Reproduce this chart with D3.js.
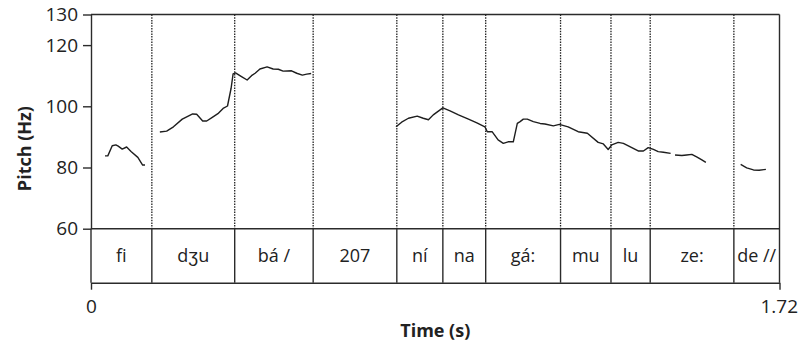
<!DOCTYPE html>
<html>
<head>
<meta charset="utf-8">
<script src="https://cdn.jsdelivr.net/npm/d3@7"></script>
<style>
  body { margin: 0; background: #fff; }
  svg { display: block; font-family: "Open Sans", sans-serif; }
</style>
</head>
<body>
<svg width="801" height="343"></svg>
<script>
// syllable boundaries (s) and their labels
var boundaries = [0, 0.152, 0.359, 0.555, 0.764, 0.879, 0.986, 1.173, 1.299, 1.397, 1.606, 1.72];
var syllables = ["fi", "dʒu", "bá /", "207", "ní", "na", "gá:", "mu", "lu", "ze:", "de //"];

var pitchTicks = [60, 80, 100, 120, 130];
var timeTicks = [0, 1.72];

// pitch track pieces, [time, Hz]
var pitchFi = [[0.035,83.8],[0.042,83.8],[0.053,87.1],[0.062,87.4],[0.068,87.0],[0.078,86.0],[0.089,86.7],[0.100,85.2],[0.117,83.3],[0.129,80.8],[0.135,80.8]];
var pitchDzuBa = [[0.172,91.6],[0.189,91.9],[0.206,93.3],[0.228,95.8],[0.254,97.5],[0.264,97.4],[0.279,95.2],[0.289,95.2],[0.302,96.3],[0.317,97.6],[0.330,99.3],[0.341,100.1],[0.350,105.9],[0.355,110.6],[0.361,110.9],[0.376,109.7],[0.390,108.6],[0.401,110.0],[0.410,110.8],[0.422,112.2],[0.440,112.9],[0.455,112.2],[0.468,112.1],[0.480,111.5],[0.501,111.6],[0.514,110.8],[0.528,110.2],[0.539,110.5],[0.550,110.7]];
var pitchNiLu = [[0.762,93.3],[0.776,94.8],[0.793,96.1],[0.815,96.8],[0.830,96.1],[0.843,95.6],[0.855,97.2],[0.879,99.5],[0.897,98.5],[0.918,97.2],[0.943,95.8],[0.964,94.6],[0.984,93.3],[0.990,91.7],[1.002,91.7],[1.017,89.0],[1.030,87.9],[1.042,88.4],[1.055,88.4],[1.065,94.4],[1.072,95.0],[1.080,95.8],[1.090,95.8],[1.105,95.0],[1.122,94.4],[1.134,94.2],[1.155,93.6],[1.170,94.1],[1.192,93.3],[1.217,91.7],[1.240,91.2],[1.267,88.2],[1.280,87.7],[1.292,85.9],[1.301,87.4],[1.317,88.2],[1.330,87.9],[1.351,86.5],[1.367,85.4],[1.380,85.4],[1.392,86.5],[1.405,85.9],[1.417,85.2],[1.430,85.0],[1.448,84.6]];
var pitchZe = [[1.459,84.1],[1.476,83.9],[1.488,84.1],[1.501,84.3],[1.513,83.5],[1.526,82.5],[1.536,81.7]];
var pitchDe = [[1.623,81.0],[1.638,79.9],[1.655,79.2],[1.669,79.1],[1.686,79.4]];

var pieces = [pitchFi, pitchDzuBa, pitchNiLu, pitchZe, pitchDe];

var plotLeft = 91, plotRight = 779.5, plotTop = 14.5, pitchBottom = 228.7, tierBottom = 282.7;
var ink = "#2b2b2b";

var svg = d3.select("svg");

var x = d3.scaleLinear().domain([0, 1.72]).range([plotLeft, plotRight]);
var y = d3.scaleLinear().domain([60, 130]).range([pitchBottom, plotTop]);

// frame
svg.append("line").attr("x1", plotLeft).attr("x2", plotRight).attr("y1", plotTop).attr("y2", plotTop);
svg.append("line").attr("x1", plotLeft).attr("x2", plotRight).attr("y1", pitchBottom).attr("y2", pitchBottom);
svg.append("line").attr("x1", plotRight).attr("x2", plotRight).attr("y1", plotTop).attr("y2", tierBottom);
svg.append("line").attr("x1", plotLeft).attr("x2", plotLeft).attr("y1", pitchBottom).attr("y2", tierBottom);
svg.selectAll("line").attr("stroke", ink).attr("stroke-width", 1.4);

// dotted boundaries in the pitch panel
svg.selectAll(".dot")
  .data(boundaries.slice(1, -1))
  .enter()
  .append("line")
  .attr("class", "dot")
  .attr("x1", function(d) { return x(d); })
  .attr("x2", function(d) { return x(d); })
  .attr("y1", plotTop)
  .attr("y2", pitchBottom)
  .attr("stroke", "#222")
  .attr("stroke-width", 1.3)
  .attr("stroke-dasharray", "1.5,1.2");

// solid boundaries in the text tier
svg.selectAll(".tier")
  .data(boundaries.slice(1, -1))
  .enter()
  .append("line")
  .attr("class", "tier")
  .attr("x1", function(d) { return x(d); })
  .attr("x2", function(d) { return x(d); })
  .attr("y1", pitchBottom)
  .attr("y2", tierBottom)
  .attr("stroke", ink)
  .attr("stroke-width", 1.4);

svg.selectAll(".syl")
  .data(syllables)
  .enter()
  .append("text")
  .attr("class", "syl")
  .attr("x", function(d, i) { return (x(boundaries[i]) + x(boundaries[i + 1])) / 2; })
  .attr("y", 262)
  .attr("text-anchor", "middle")
  .attr("font-size", 18)
  .attr("fill", "#222")
  .text(function(d) { return d; });

// pitch contour
var line = d3.line()
  .x(function(d) { return x(d[0]); })
  .y(function(d) { return y(d[1]); });

svg.selectAll(".f0")
  .data(pieces)
  .enter()
  .append("path")
  .attr("class", "f0")
  .attr("d", line)
  .attr("fill", "none")
  .attr("stroke", "#1e1e1e")
  .attr("stroke-width", 1.4)
  .attr("stroke-linejoin", "round");

// axes
var yAxis = svg.append("g")
  .attr("transform", "translate(" + plotLeft + ",0)")
  .call(d3.axisLeft(y).tickValues(pitchTicks).tickSize(8).tickSizeOuter(0).tickPadding(5));

var xAxis = svg.append("g")
  .attr("transform", "translate(0," + tierBottom + ")")
  .call(d3.axisBottom(x).tickValues(timeTicks).tickSize(7).tickSizeOuter(0).tickPadding(10)
    .tickFormat(function(d) { return d === 0 ? "0" : d3.format(".2f")(d); }));

[yAxis, xAxis].forEach(function(g) {
  g.selectAll("path, line").attr("stroke", ink).attr("stroke-width", 1.4);
  g.selectAll("text").attr("font-size", 19).attr("font-family", "Open Sans").attr("fill", "#222");
});

// keep the 1.72 label inside the picture
xAxis.selectAll(".tick text")
  .filter(function(d) { return d === 1.72; })
  .attr("text-anchor", "end")
  .attr("dx", 18);

// axis titles
svg.append("text")
  .attr("transform", "translate(31," + (plotTop + tierBottom) / 2 + ") rotate(-90)")
  .attr("text-anchor", "middle")
  .attr("font-size", 18)
  .attr("font-weight", "bold")
  .attr("fill", "#222")
  .text("Pitch (Hz)");

svg.append("text")
  .attr("x", (plotLeft + plotRight) / 2)
  .attr("y", 337)
  .attr("text-anchor", "middle")
  .attr("font-size", 18)
  .attr("font-weight", "bold")
  .attr("fill", "#222")
  .text("Time (s)");
</script>
</body>
</html>
